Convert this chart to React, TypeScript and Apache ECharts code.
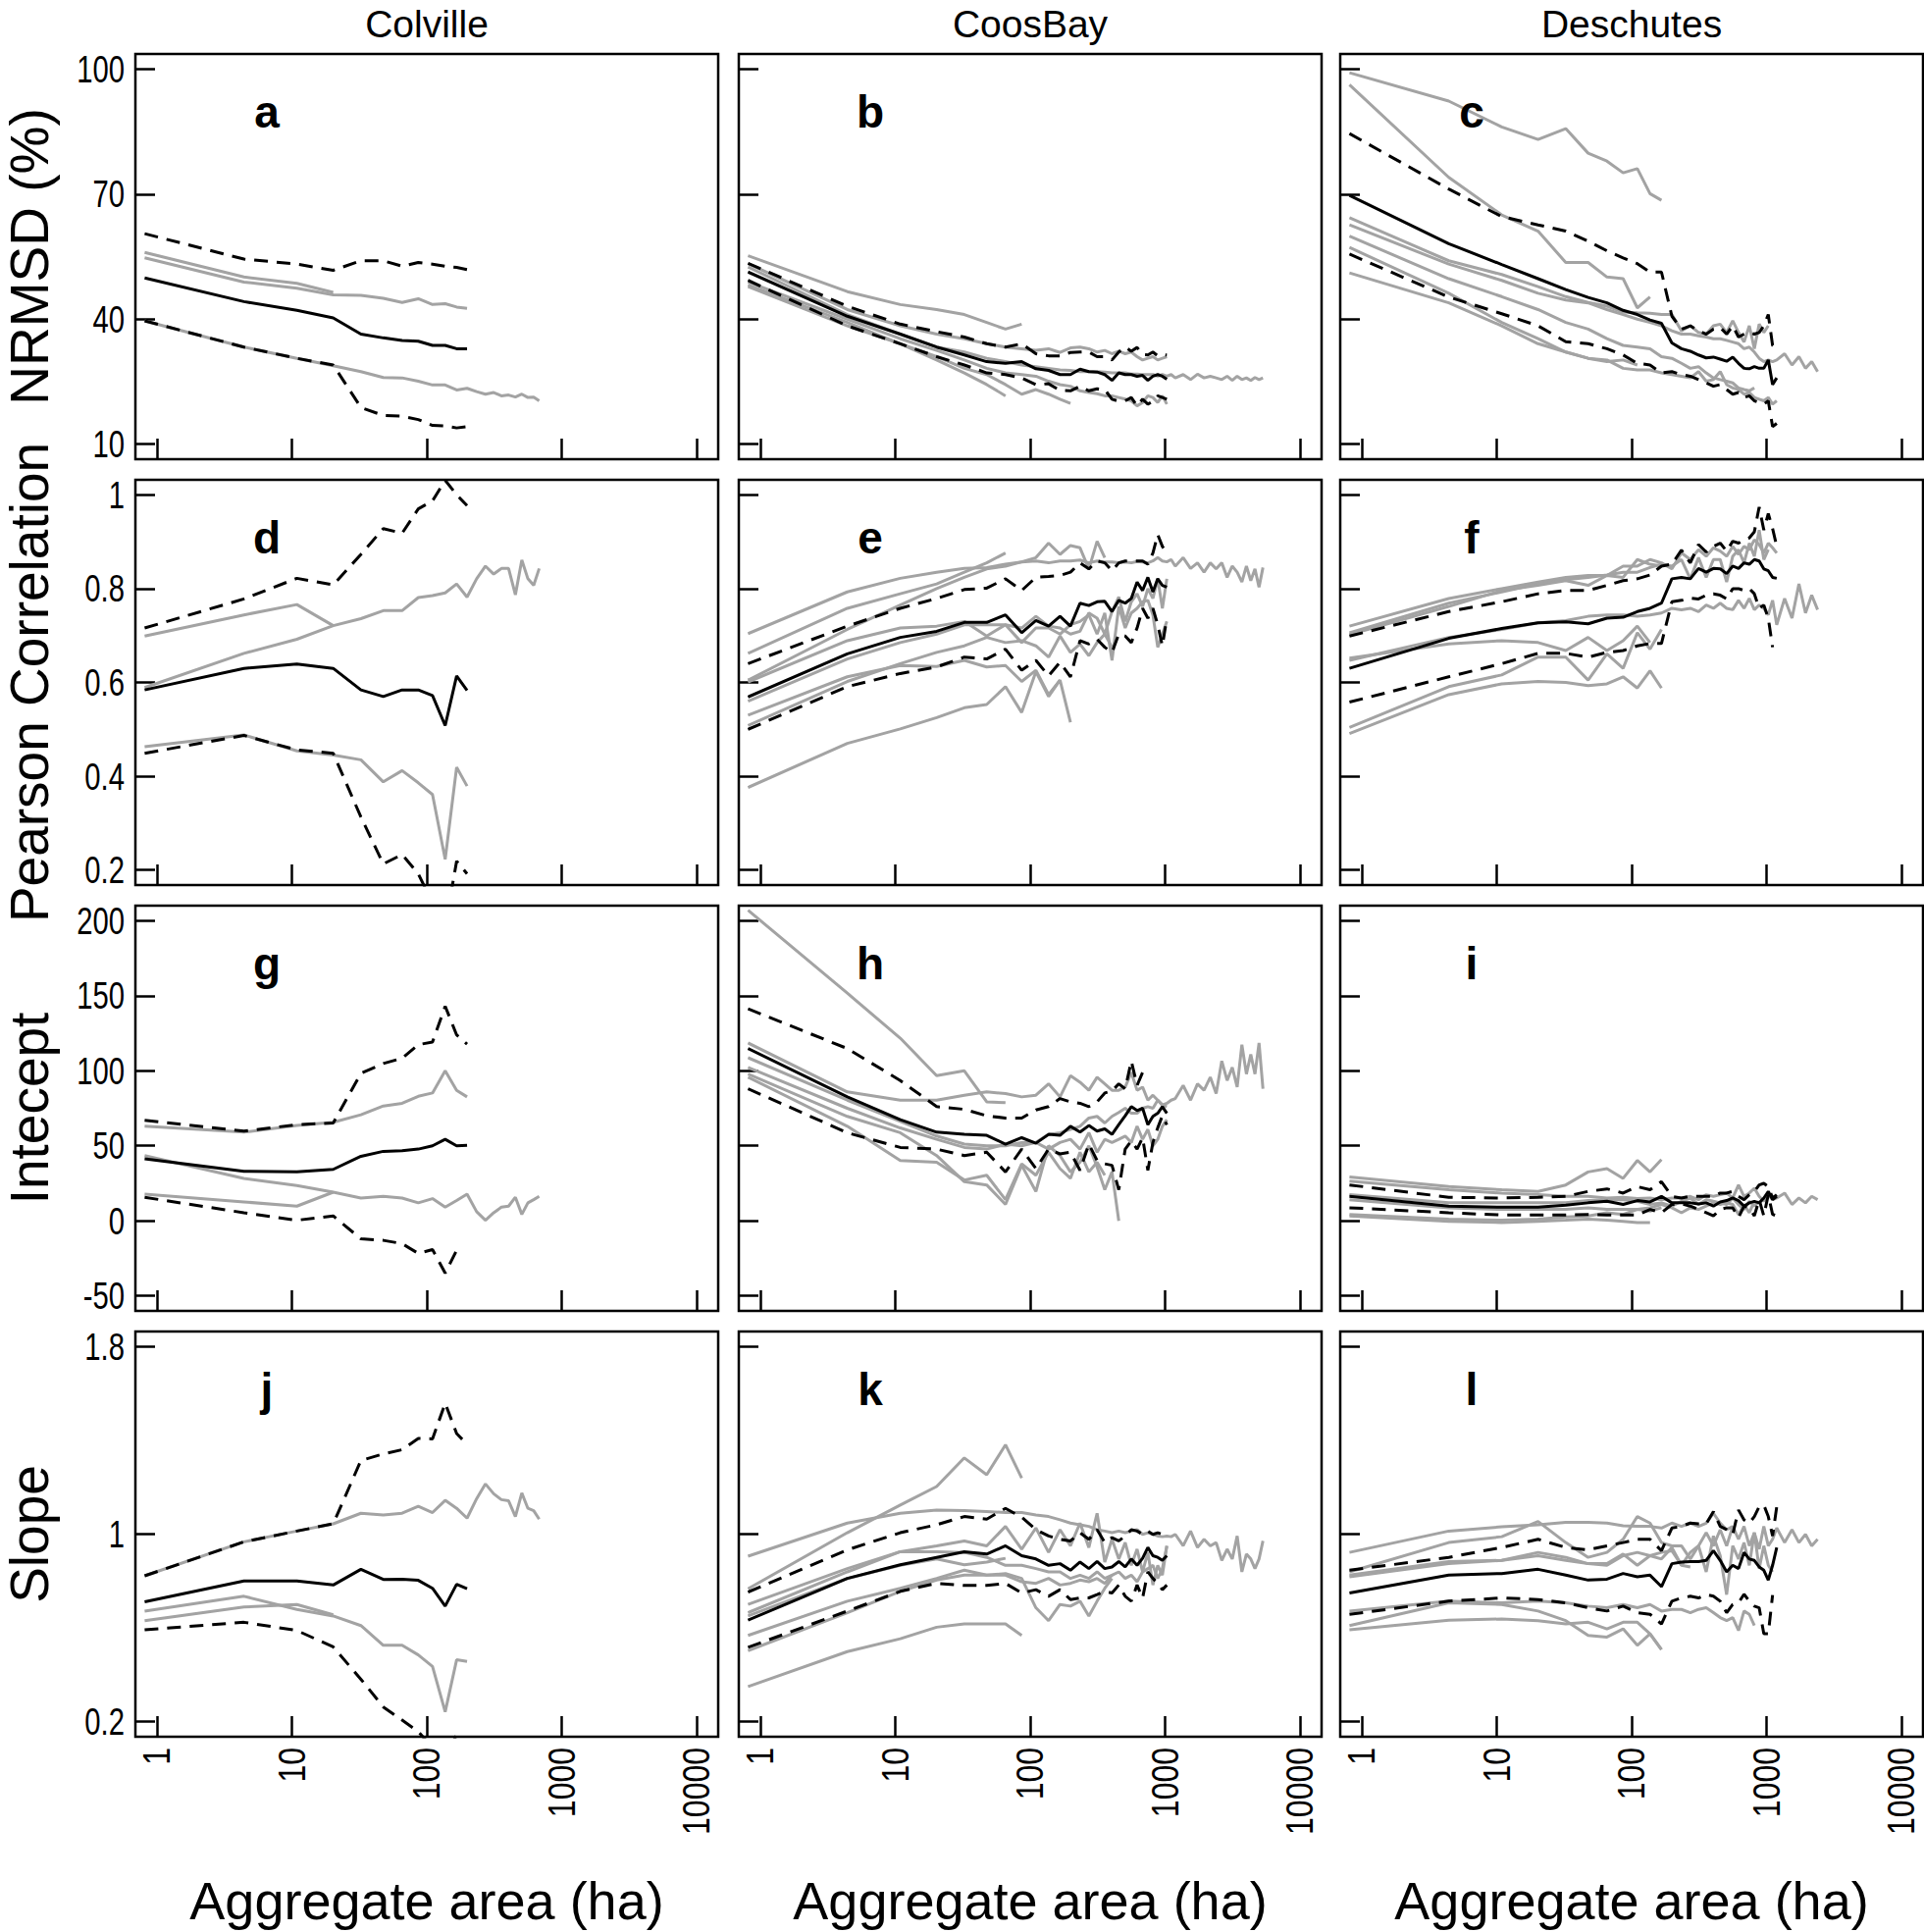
import React, { useEffect, useRef } from 'react';
import * as echarts from 'echarts';

// Aggregate area (ha) of each aggregation level (x values, shared by all series)
const AREA = [0.81, 4.41, 10.89, 20.25, 32.49, 47.61, 65.61, 86.49, 110.25, 136.89, 166.41, 198.81, 234.09, 272.25, 313.29, 357.21, 404.01, 453.69, 506.25, 561.69, 620.01, 681.21, 745.29, 812.25, 882.09, 954.81, 1030.41, 1108.89, 1190.25, 1361.61, 1544.49, 1738.89, 1944.81, 2162.25, 2391.21, 2631.69, 2883.69, 3147.21, 3422.25, 3708.81, 4006.89, 4316.49, 4637.61, 4970.25, 5314.41];

const SITES = ['Colville', 'CoosBay', 'Deschutes'];
const METRICS = ['NRMSD (%)', 'Pearson Correlation', 'Intecept', 'Slope'];
const X_TITLE = 'Aggregate area (ha)';
const X_TICKS = [1, 10, 100, 1000, 10000];
const Y_TICKS = [[10, 40, 70, 100], [0.2, 0.4, 0.6, 0.8, 1], [-50, 0, 50, 100, 150, 200], [0.2, 1, 1.8]];
const Y_LIMITS = [[6.4, 103.6], [0.168, 1.032], [-60, 210], [0.136, 1.864]];
const LETTERS = ['a', 'b', 'c', 'd', 'e', 'f', 'g', 'h', 'i', 'j', 'k', 'l'];

// ---- a: Colville NRMSD
const a_mean = [49.9, 44.2, 42.1, 40.3, 36.4, 35.5, 34.9, 34.7, 33.7, 33.7, 32.9, 32.9];
const a_hi = [60.5, 54.4, 53.2, 51.7, 54.0, 54.0, 52.7, 53.6, 53.2, 52.7, 52.4, 51.9];
const a_lo = [39.6, 33.3, 30.6, 29.0, 18.8, 16.9, 16.7, 15.9, 14.5, 14.4, 13.9, 14.2];
const a_g1 = [56.0, 50.1, 48.6, 46.4];
const a_g2 = [54.7, 48.9, 47.4, 45.8, 45.7, 45.0, 44.0, 44.9, 43.5, 43.7, 42.9, 42.6];
const a_g3 = [39.6, 33.3, 30.6, 28.8, 27.4, 26.0, 25.9, 25.1, 24.2, 24.2, 23.0, 23.4, 22.6, 22.0, 22.4, 21.6, 21.8, 21.3, 22.0, 21.2, 21.3, 20.4];

// ---- b: CoosBay NRMSD
const b_mean = [51.3, 40.7, 36.4, 33.3, 31.4, 29.8, 29.4, 29.8, 28.1, 27.7, 26.7, 26.7, 28.0, 27.4, 27.3, 26.7, 25.3, 27.1, 26.7, 26.7, 26.3, 26.5, 25.3, 26.3, 26.7, 26.3, 25.6];
const b_hi = [53.4, 43.1, 38.8, 37.0, 35.7, 34.1, 33.3, 34.1, 31.7, 31.2, 31.2, 32.0, 32.1, 32.1, 31.0, 31.0, 30.2, 32.1, 33.3, 32.3, 33.2, 31.5, 31.4, 32.1, 31.2, 31.5, 31.4];
const b_lo = [49.3, 38.4, 34.1, 31.0, 29.0, 27.1, 26.7, 25.9, 24.3, 24.5, 22.9, 22.8, 23.9, 22.8, 23.3, 23.1, 20.8, 20.3, 20.4, 21.2, 19.2, 20.8, 19.6, 20.3, 21.6, 21.2, 20.8];
const b_g1 = [55.2, 46.6, 43.5, 42.3, 41.1, 39.2, 37.6, 38.8];
const b_g2 = [53.3, 42.3, 38.4, 36.4, 35.3, 34.1, 33.3, 32.9, 32.5, 32.9, 32.0, 33.1, 33.3, 32.9, 32.1, 32.5, 31.7, 32.3, 31.7, 32.1, 31.0, 30.2, 30.6, 31.0, 30.2, 30.6, 31.0];
const b_g3 = [52.5, 41.1, 36.4, 33.3, 32.1, 30.6, 29.8, 29.0, 28.6, 28.2, 27.8, 27.7, 27.4, 27.4, 27.4, 27.3, 27.1, 27.1, 27.1, 26.8, 26.8, 26.7, 26.7, 26.7, 26.3, 26.7, 26.3, 26.7, 25.9, 26.7, 25.5, 26.8, 25.9, 26.3, 25.9, 25.5, 26.3, 25.3, 26.3, 25.5, 25.9, 25.3, 26.0, 25.5, 25.9];
const b_g4 = [48.2, 39.2, 34.1, 30.2, 27.1, 24.3, 21.6];
const b_g5 = [47.8, 38.4, 34.1, 31.0, 28.2, 26.7, 24.3, 22.0, 23.1, 22.0, 20.8, 19.8];
const b_g6 = [48.9, 40.0, 35.3, 32.5, 30.2, 28.2, 27.1, 26.7, 26.3, 25.1, 24.3, 23.9, 22.8, 22.4, 22.1, 21.6, 21.6, 21.2, 20.8, 20.4, 19.2, 20.0, 21.6, 21.2, 20.0, 21.6, 19.6];

// ---- c: Deschutes NRMSD
const c_mean = [69.7, 58.1, 53.1, 49.7, 47.1, 45.2, 43.9, 42.1, 41.1, 39.8, 39.0, 34.3, 32.9, 32.3, 31.4, 30.7, 30.9, 30.4, 29.9, 30.9, 29.4, 28.2, 28.1, 28.6, 28.2, 28.2, 30.2, 24.3, 25.9];
const c_hi = [84.5, 71.2, 64.6, 62.6, 61.1, 58.7, 56.4, 54.7, 53.3, 51.3, 51.3, 40.7, 37.6, 38.4, 37.2, 36.4, 37.6, 38.0, 36.4, 38.4, 35.7, 36.4, 36.8, 36.4, 36.8, 38.4, 41.1, 33.7, 33.0];
const c_lo = [55.6, 45.3, 41.3, 38.4, 34.6, 34.1, 32.9, 31.4, 29.4, 29.0, 27.1, 27.4, 26.7, 26.3, 25.5, 24.7, 23.9, 24.3, 23.1, 22.0, 22.4, 21.2, 21.6, 20.4, 20.0, 19.6, 20.4, 14.2, 15.0];
const c_g1 = [99.1, 92.3, 86.1, 83.1, 85.7, 79.8, 77.9, 75.1, 76.1, 70.1, 68.5];
const c_g2 = [96.2, 74.0, 65.0, 61.1, 53.6, 53.6, 50.1, 49.7, 42.7, 45.3];
const c_g3 = [64.3, 54.0, 50.7, 47.8, 45.4, 44.0, 43.1, 41.7, 41.5, 41.4, 41.1, 41.1, 37.2, 38.4, 36.8, 36.4, 38.4, 38.8, 36.8, 39.6, 36.8, 34.5, 38.4, 32.9, 38.8, 36.8, 38.4];
const c_g4 = [62.6, 53.2, 49.3, 46.2, 44.6, 43.9, 42.3, 41.1, 40.0, 39.2, 38.4, 37.2, 36.4, 36.4, 36.0, 35.7, 35.3, 35.3, 34.9, 34.5, 34.1, 32.9, 33.3, 32.1, 30.6, 29.8, 30.2, 29.8, 30.2, 31.7, 29.0, 31.0, 28.2, 29.8, 27.4];
const c_g5 = [59.9, 49.7, 45.4, 42.3, 39.2, 37.6, 35.3, 33.7, 33.3, 32.9, 31.0, 30.6, 29.4, 28.2, 28.6, 27.1, 25.9, 25.5, 25.1, 24.7, 23.5, 23.1, 22.8, 23.5];
const c_g6 = [57.2, 46.2, 39.2, 35.3, 32.1, 30.6, 30.2, 28.2, 27.8, 27.8, 27.1, 26.7, 26.3, 25.9, 27.4, 25.1, 25.5, 27.4, 24.3, 23.5, 23.1, 22.0, 22.4, 21.2, 20.8, 20.4, 21.2, 19.6, 20.4];
const c_g7 = [51.1, 43.9, 38.4, 34.1, 32.1, 30.6, 29.8, 30.2, 29.0];

// ---- d: Colville Pearson
const d_mean = [0.584, 0.630, 0.639, 0.630, 0.584, 0.570, 0.584, 0.584, 0.572, 0.508, 0.614, 0.583];
const d_hi = [0.716, 0.778, 0.822, 0.808, 0.873, 0.928, 0.918, 0.970, 0.987, 1.031, 1.0, 0.977];
const d_lo = [0.449, 0.487, 0.456, 0.449, 0.313, 0.213, 0.233, 0.192, 0.13, 0.08, 0.219, 0.192];
const d_g1 = [0.699, 0.744, 0.766, 0.721];
const d_g2 = [0.589, 0.662, 0.692, 0.721, 0.736, 0.753, 0.753, 0.781, 0.785, 0.791, 0.810, 0.782, 0.821, 0.848, 0.831, 0.843, 0.843, 0.787, 0.861, 0.821, 0.807, 0.843];
const d_g3 = [0.463, 0.488, 0.454, 0.445, 0.435, 0.388, 0.412, 0.386, 0.361, 0.223, 0.419, 0.379];

// ---- e: CoosBay Pearson
const e_mean = [0.569, 0.661, 0.696, 0.709, 0.728, 0.728, 0.744, 0.706, 0.732, 0.720, 0.741, 0.720, 0.769, 0.764, 0.772, 0.773, 0.751, 0.775, 0.769, 0.779, 0.814, 0.796, 0.824, 0.793, 0.821, 0.807, 0.803];
const e_hi = [0.640, 0.720, 0.758, 0.779, 0.798, 0.801, 0.821, 0.796, 0.824, 0.826, 0.828, 0.835, 0.855, 0.842, 0.859, 0.855, 0.838, 0.855, 0.859, 0.859, 0.859, 0.859, 0.852, 0.876, 0.915, 0.890, 0.876];
const e_lo = [0.500, 0.591, 0.619, 0.633, 0.654, 0.650, 0.671, 0.626, 0.647, 0.614, 0.643, 0.612, 0.689, 0.682, 0.692, 0.675, 0.664, 0.703, 0.699, 0.685, 0.716, 0.758, 0.737, 0.758, 0.723, 0.678, 0.737];
const e_g1 = [0.704, 0.793, 0.822, 0.835, 0.843, 0.845, 0.852, 0.857, 0.859, 0.855, 0.859, 0.859, 0.861, 0.855, 0.859, 0.857, 0.857, 0.855, 0.857, 0.855, 0.858, 0.857, 0.855, 0.859, 0.866, 0.859, 0.857, 0.862, 0.848, 0.866, 0.843, 0.855, 0.835, 0.855, 0.842, 0.855, 0.824, 0.848, 0.835, 0.814, 0.848, 0.817, 0.842, 0.803, 0.845];
const e_g2 = [0.662, 0.758, 0.789, 0.810, 0.835, 0.855, 0.876];
const e_g3 = [0.605, 0.713, 0.765, 0.800, 0.824, 0.842, 0.848, 0.857, 0.866, 0.897, 0.873, 0.892, 0.887, 0.842, 0.901, 0.866];
const e_g4 = [0.601, 0.689, 0.716, 0.720, 0.730, 0.699, 0.723, 0.716, 0.741, 0.720, 0.716, 0.703, 0.709, 0.748, 0.737, 0.703, 0.751, 0.782, 0.730, 0.772, 0.789, 0.762, 0.800, 0.779, 0.821, 0.758, 0.821];
const e_g5 = [0.560, 0.650, 0.685, 0.703, 0.723, 0.723, 0.723, 0.685, 0.716, 0.716, 0.703, 0.723, 0.730, 0.744, 0.703, 0.748, 0.647, 0.762, 0.716, 0.748, 0.758, 0.772, 0.775, 0.744, 0.675, 0.703, 0.730];
const e_g6 = [0.530, 0.612, 0.636, 0.634, 0.647, 0.633, 0.636, 0.602, 0.626, 0.574, 0.605];
const e_g7 = [0.508, 0.602, 0.640, 0.664, 0.678, 0.696, 0.685, 0.689, 0.678, 0.654, 0.699, 0.664, 0.682, 0.657, 0.685, 0.703, 0.675];
const e_g8 = [0.376, 0.470, 0.501, 0.525, 0.546, 0.553, 0.591, 0.536, 0.623, 0.570, 0.605, 0.515];

// ---- f: Deschutes Pearson
const f_mean = [0.630, 0.694, 0.715, 0.727, 0.729, 0.725, 0.737, 0.739, 0.751, 0.758, 0.769, 0.821, 0.824, 0.821, 0.843, 0.835, 0.843, 0.842, 0.832, 0.848, 0.843, 0.855, 0.852, 0.862, 0.859, 0.842, 0.838, 0.824, 0.822];
const f_hi = [0.699, 0.751, 0.772, 0.789, 0.796, 0.796, 0.807, 0.817, 0.821, 0.829, 0.848, 0.852, 0.882, 0.855, 0.894, 0.878, 0.890, 0.897, 0.880, 0.901, 0.897, 0.904, 0.908, 0.921, 0.974, 0.925, 0.960, 0.928, 0.890];
const f_lo = [0.558, 0.612, 0.640, 0.662, 0.662, 0.654, 0.664, 0.668, 0.678, 0.683, 0.683, 0.772, 0.775, 0.780, 0.778, 0.786, 0.789, 0.786, 0.778, 0.800, 0.800, 0.796, 0.800, 0.789, 0.758, 0.765, 0.737, 0.675];
const f_g1 = [0.720, 0.779, 0.800, 0.814, 0.824, 0.828, 0.828, 0.848, 0.848, 0.862, 0.855, 0.842, 0.876, 0.862, 0.883, 0.869, 0.887, 0.880, 0.869, 0.890, 0.873, 0.890, 0.883, 0.904, 0.894, 0.876, 0.897, 0.887, 0.876];
const f_g2 = [0.706, 0.769, 0.793, 0.810, 0.819, 0.824, 0.829, 0.835, 0.835, 0.845, 0.852, 0.848, 0.862, 0.821, 0.866, 0.824, 0.862, 0.862, 0.814, 0.869, 0.883, 0.855, 0.897, 0.869, 0.925, 0.862, 0.883];
const f_g3 = [0.702, 0.762, 0.796, 0.807, 0.817, 0.807, 0.828, 0.824, 0.862, 0.852, 0.848];
const f_g4 = [0.647, 0.696, 0.713, 0.727, 0.732, 0.741, 0.744, 0.744, 0.741, 0.744, 0.748, 0.758, 0.755, 0.758, 0.751, 0.765, 0.758, 0.769, 0.758, 0.755, 0.775, 0.758, 0.779, 0.755, 0.765, 0.758, 0.744, 0.775, 0.723, 0.779, 0.737, 0.810, 0.748, 0.786, 0.755];
const f_g5 = [0.652, 0.682, 0.689, 0.685, 0.668, 0.696, 0.668, 0.689, 0.720, 0.685];
const f_g6 = [0.504, 0.591, 0.616, 0.654, 0.654, 0.605, 0.661, 0.630, 0.706, 0.671, 0.713];
const f_g7 = [0.491, 0.574, 0.597, 0.602, 0.600, 0.593, 0.597, 0.612, 0.588, 0.625, 0.588];

// ---- g: Colville intercept
const g_mean = [41.3, 33.0, 32.6, 34.3, 43.0, 46.3, 46.7, 47.8, 50.0, 54.3, 50.0, 50.4];
const g_hi = [67.0, 59.8, 64.1, 65.2, 98.3, 104.8, 108.3, 117.4, 119.1, 143.0, 123.9, 117.8];
const g_lo = [15.7, 5.4, 0.4, 3.3, -12.0, -13.0, -15.2, -21.7, -19.1, -34.8, -19.6];
const g_g1 = [63.0, 59.1, 63.5, 65.7, 70.7, 76.5, 78.3, 83.0, 85.2, 100.0, 87.0, 82.6];
const g_g2 = [43.5, 28.3, 23.5, 19.1, 15.2, 16.3, 15.2, 12.0, 14.8, 9.1, 13.5, 17.8, 6.1, 0.4, 5.4, 9.1, 9.8, 15.7, 4.3, 12.0, 14.1, 16.3];
const g_g3 = [17.8, 12.6, 9.8, 19.1];

// ---- h: CoosBay intercept
const h_mean = [114.8, 82.6, 67.4, 59.1, 57.6, 57.0, 51.1, 55.4, 51.7, 57.6, 57.0, 63.0, 59.1, 63.5, 59.8, 61.3, 57.6, 64.1, 70.0, 76.1, 73.5, 75.0, 64.1, 69.6, 71.7, 76.1, 71.7];
const h_hi = [141.3, 114.8, 93.5, 76.1, 74.3, 70.0, 68.5, 68.5, 73.9, 76.1, 81.5, 79.3, 78.3, 76.1, 79.3, 85.2, 86.5, 91.3, 88.0, 106.5, 90.2, 98.9, 94.6];
const h_lo = [88.0, 58.7, 48.9, 47.8, 43.5, 45.7, 32.6, 47.8, 34.8, 47.8, 44.6, 45.7, 33.7, 51.1, 40.2, 38.0, 37.0, 20.7, 47.8, 53.3, 47.8, 55.4, 33.7, 52.2, 62.0, 70.0, 64.0];
const h_g1 = [207.0, 151.7, 121.7, 96.7, 100.0, 79.3, 78.7];
const h_g2 = [118.5, 85.9, 80.4, 80.4, 83.7, 85.9, 84.8, 82.6, 83.7, 91.3, 82.6, 96.7, 92.4, 87.0, 95.7, 91.3, 87.0, 87.0, 89.1, 98.9, 87.0, 89.1, 80.4, 83.7, 80.4, 77.2, 78.3, 80.4, 81.5, 90.2, 80.4, 91.3, 87.0, 95.7, 84.8, 106.5, 93.5, 102.2, 89.1, 117.4, 97.8, 110.9, 97.8, 118.5, 88.0];
const h_g3 = [108.7, 80.4, 66.3, 56.5, 51.1, 50.0, 50.0, 52.2, 52.2, 57.6, 58.7, 60.9, 63.0, 68.5, 69.6, 65.2, 69.6, 72.2, 75.0, 71.7, 71.7, 75.0, 76.1, 75.0, 80.4, 77.2, 76.1];
const h_g4 = [97.8, 69.6, 58.7, 43.5, 26.1, 23.9, 10.9, 37.0, 19.6, 50.0, 43.5, 32.6, 39.1, 50.0, 35.9, 20.7, 32.6, 0.0];
const h_g5 = [102.2, 75.0, 61.9, 54.3, 48.9, 47.8, 51.1, 50.0, 52.2, 47.8, 52.2, 54.3, 47.8, 58.7, 45.7, 54.3, 52.2, 54.3, 56.5, 52.2, 63.0, 54.3, 60.9, 50.0, 54.3, 63.0, 67.4];
const h_g6 = [95.7, 63.0, 40.2, 39.1, 27.2, 30.4, 14.1, 38.0, 30.4, 45.7, 34.8, 28.3, 45.7, 32.6, 39.1, 30.4];

// ---- i: Deschutes intercept
const i_mean = [16.3, 9.8, 9.1, 9.1, 10.4, 12.0, 13.0, 10.9, 13.5, 12.6, 16.3, 12.0, 12.0, 12.0, 11.3, 12.0, 9.8, 12.6, 13.5, 15.2, 13.5, 9.8, 12.0, 13.0, 12.0, 15.2, 19.6, 14.1, 16.3];
const i_hi = [23.9, 15.7, 15.2, 15.7, 16.3, 19.6, 21.3, 18.5, 22.8, 20.7, 26.1, 16.3, 15.2, 16.3, 16.3, 16.3, 16.3, 18.5, 18.5, 19.6, 16.3, 14.1, 17.4, 19.6, 23.9, 25.0, 22.8, 15.2, 17.4];
const i_lo = [8.7, 5.4, 3.9, 3.9, 3.9, 4.3, 3.9, 3.9, 3.9, 7.6, 5.4, 10.9, 11.3, 9.8, 7.6, 5.4, 3.3, 7.6, 8.7, 8.7, 2.2, 9.8, 8.7, 3.3, 14.1, 3.3, 17.4, 4.3, 3.3];
const i_g1 = [29.3, 22.8, 20.7, 19.6, 23.9, 32.6, 34.8, 28.3, 40.2, 32.6, 40.9];
const i_g2 = [26.5, 20.7, 18.5, 17.4, 16.3, 16.3, 15.2, 15.7, 14.8, 15.2, 14.1, 15.2, 15.2, 16.3, 14.1, 17.4, 16.3, 17.4, 18.5, 15.2, 23.9, 16.3, 18.5, 21.7, 16.3, 13.0, 17.4, 14.1, 15.2, 18.5, 10.9, 15.2, 12.0, 16.3, 14.1];
const i_g3 = [17.4, 12.0, 12.0, 12.0, 12.0, 13.5, 14.1, 14.1, 13.0, 10.9, 12.0, 9.8, 13.0, 15.2, 10.9, 14.1, 13.0, 12.0, 10.9, 15.2, 10.9, 7.6, 13.0, 9.8, 13.0];
const i_g4 = [14.1, 8.7, 7.6, 7.6, 7.6, 8.7, 7.6, 7.6, 7.6, 8.7, 10.9, 8.7, 5.4, 8.7, 7.6, 9.8, 12.0, 10.9, 12.0, 10.9, 4.3, 10.9, 5.4, 13.0];
const i_g5 = [3.3, -0.4, -1.1, -0.4, 0.4, 1.1, 0.4, -0.4, -1.1, -1.1];
const i_g6 = [4.3, 1.1, 0.4, 1.1, 2.6, 3.3, 5.4, 4.3, 7.6, 6.5, 8.7];

// ---- j: Colville slope
const j_mean = [0.711, 0.800, 0.800, 0.783, 0.850, 0.807, 0.808, 0.803, 0.769, 0.693, 0.786, 0.767];
const j_hi = [0.822, 0.967, 1.013, 1.044, 1.314, 1.342, 1.360, 1.408, 1.406, 1.558, 1.429, 1.383];
const j_lo = [0.592, 0.624, 0.589, 0.519, 0.381, 0.263, 0.207, 0.158, 0.09, 0.05, 0.144, 0.10];
const j_g1 = [0.822, 0.967, 1.013, 1.044, 1.089, 1.082, 1.089, 1.119, 1.092, 1.144, 1.110, 1.068, 1.151, 1.214, 1.172, 1.147, 1.142, 1.075, 1.175, 1.110, 1.100, 1.064];
const j_g2 = [0.672, 0.735, 0.679, 0.651, 0.610, 0.526, 0.526, 0.485, 0.436, 0.242, 0.464, 0.457];
const j_g3 = [0.631, 0.689, 0.700, 0.656];

// ---- k: CoosBay slope
const k_mean = [0.633, 0.811, 0.869, 0.901, 0.925, 0.915, 0.950, 0.908, 0.894, 0.867, 0.874, 0.846, 0.881, 0.853, 0.883, 0.853, 0.860, 0.883, 0.860, 0.894, 0.867, 0.897, 0.943, 0.908, 0.901, 0.888, 0.908];
const k_hi = [0.753, 0.933, 1.006, 1.040, 1.075, 1.064, 1.110, 1.072, 1.019, 0.992, 0.978, 0.971, 1.006, 0.978, 1.019, 0.964, 0.985, 0.971, 0.992, 1.019, 1.013, 0.999, 1.013, 0.999, 1.006, 0.999];
const k_lo = [0.517, 0.672, 0.756, 0.790, 0.781, 0.781, 0.790, 0.749, 0.763, 0.735, 0.763, 0.721, 0.728, 0.728, 0.742, 0.756, 0.749, 0.783, 0.735, 0.714, 0.783, 0.728, 0.839, 0.811, 0.790, 0.763, 0.783];
const k_g1 = [0.767, 1.006, 1.124, 1.203, 1.325, 1.253, 1.381, 1.239];
const k_g2 = [0.906, 1.047, 1.089, 1.103, 1.100, 1.096, 1.092, 1.092, 1.082, 1.075, 1.061, 1.047, 1.040, 1.033, 1.019, 1.013, 1.006, 1.013, 1.006, 1.013, 1.019, 0.999, 1.006, 0.999, 0.992, 0.989, 0.992, 0.989, 0.999, 0.950, 1.013, 0.943, 0.978, 0.950, 0.964, 0.888, 0.936, 0.894, 0.992, 0.839, 0.915, 0.894, 0.853, 0.894, 0.971];
const k_g3 = [0.665, 0.839, 0.925, 0.950, 0.971, 0.950, 1.033, 0.936, 1.026, 0.922, 1.019, 0.950, 1.047, 0.943, 1.089, 0.881, 0.978, 0.894, 0.964, 0.867, 0.936, 0.839, 0.922, 0.783, 0.867, 0.825, 0.950];
const k_g4 = [0.651, 0.811, 0.867, 0.894, 0.869, 0.881, 0.897];
const k_g5 = [0.700, 0.853, 0.925, 0.925, 0.922, 0.901, 0.867, 0.867, 0.853, 0.839, 0.839, 0.811, 0.825, 0.811, 0.839, 0.811, 0.825, 0.839, 0.811, 0.825, 0.797, 0.839, 0.853, 0.867, 0.811, 0.853, 0.950];
const k_g6 = [0.568, 0.714, 0.769, 0.811, 0.846, 0.825, 0.825, 0.797, 0.790, 0.811, 0.783, 0.790, 0.804, 0.797, 0.811, 0.790, 0.825];
const k_g7 = [0.503, 0.665, 0.756, 0.804, 0.825, 0.825, 0.832, 0.811, 0.686, 0.631, 0.700, 0.693, 0.714, 0.651, 0.714, 0.769, 0.811];
const k_g8 = [0.350, 0.499, 0.554, 0.603, 0.617, 0.617, 0.617, 0.568];

// ---- l: Deschutes slope
const l_mean = [0.749, 0.825, 0.832, 0.850, 0.825, 0.804, 0.808, 0.832, 0.818, 0.825, 0.776, 0.874, 0.881, 0.883, 0.883, 0.888, 0.929, 0.888, 0.839, 0.867, 0.853, 0.922, 0.894, 0.888, 0.860, 0.846, 0.804, 0.867, 0.943];
const l_hi = [0.846, 0.901, 0.943, 0.978, 0.943, 0.933, 0.950, 0.964, 0.978, 0.978, 0.929, 1.026, 1.033, 1.047, 1.044, 1.044, 1.096, 1.033, 1.019, 0.999, 1.103, 1.061, 1.047, 1.075, 1.117, 1.124, 1.075, 0.992, 1.117];
const l_lo = [0.658, 0.714, 0.728, 0.721, 0.707, 0.686, 0.672, 0.693, 0.665, 0.658, 0.617, 0.714, 0.728, 0.735, 0.728, 0.742, 0.735, 0.714, 0.665, 0.700, 0.707, 0.744, 0.714, 0.693, 0.686, 0.575, 0.575, 0.740];
const l_g1 = [0.922, 1.013, 1.031, 1.040, 1.050, 1.050, 1.047, 1.036, 1.033, 1.033, 1.026, 1.047, 1.033, 1.047, 1.033, 1.047, 1.089, 1.047, 1.019, 1.033];
const l_g2 = [0.839, 0.964, 0.989, 1.054, 0.964, 0.901, 0.922, 0.978, 1.075, 1.047, 0.964, 0.950, 0.950, 0.894, 0.950, 1.006, 0.950, 1.019, 0.950, 1.033, 0.978, 1.033, 0.950, 1.006, 0.936, 1.033, 0.950, 0.978, 1.026, 0.964, 1.019, 0.964, 0.999, 0.950, 0.978];
const l_g3 = [0.825, 0.883, 0.888, 0.922, 0.901, 0.874, 0.874, 0.915, 0.867, 0.908, 0.894, 0.943, 0.867, 0.922, 0.950, 0.839, 0.992, 0.908, 0.742, 0.950, 0.894, 0.964, 0.867, 1.006, 0.853, 0.950, 0.867, 0.839];
const l_g4 = [0.818, 0.874, 0.888, 0.908, 0.888, 0.874, 0.867, 0.908, 0.922, 0.908, 0.922, 0.929, 0.867, 0.860];
const l_g5 = [0.672, 0.714, 0.707, 0.714, 0.707, 0.693, 0.686, 0.700, 0.686, 0.700, 0.672, 0.679, 0.679, 0.665, 0.679, 0.686, 0.665, 0.644, 0.631, 0.644, 0.589, 0.672, 0.658, 0.610];
const l_g6 = [0.610, 0.707, 0.700, 0.672, 0.631, 0.568, 0.561, 0.596, 0.526, 0.575, 0.508];
const l_g7 = [0.592, 0.633, 0.638, 0.631, 0.617, 0.624, 0.596, 0.624, 0.624, 0.575, 0.508];

type Kind = 'gray' | 'band' | 'mean';
const PANEL_LINES: [number[], Kind][][] = [
  [[a_g1, 'gray'], [a_g2, 'gray'], [a_g3, 'gray'], [a_hi, 'band'], [a_lo, 'band'], [a_mean, 'mean']],
  [[b_g1, 'gray'], [b_g2, 'gray'], [b_g3, 'gray'], [b_g4, 'gray'], [b_g5, 'gray'], [b_g6, 'gray'], [b_hi, 'band'], [b_lo, 'band'], [b_mean, 'mean']],
  [[c_g1, 'gray'], [c_g2, 'gray'], [c_g3, 'gray'], [c_g4, 'gray'], [c_g5, 'gray'], [c_g6, 'gray'], [c_g7, 'gray'], [c_hi, 'band'], [c_lo, 'band'], [c_mean, 'mean']],
  [[d_g1, 'gray'], [d_g2, 'gray'], [d_g3, 'gray'], [d_hi, 'band'], [d_lo, 'band'], [d_mean, 'mean']],
  [[e_g1, 'gray'], [e_g2, 'gray'], [e_g3, 'gray'], [e_g4, 'gray'], [e_g5, 'gray'], [e_g6, 'gray'], [e_g7, 'gray'], [e_g8, 'gray'], [e_hi, 'band'], [e_lo, 'band'], [e_mean, 'mean']],
  [[f_g1, 'gray'], [f_g2, 'gray'], [f_g3, 'gray'], [f_g4, 'gray'], [f_g5, 'gray'], [f_g6, 'gray'], [f_g7, 'gray'], [f_hi, 'band'], [f_lo, 'band'], [f_mean, 'mean']],
  [[g_g1, 'gray'], [g_g2, 'gray'], [g_g3, 'gray'], [g_hi, 'band'], [g_lo, 'band'], [g_mean, 'mean']],
  [[h_g1, 'gray'], [h_g2, 'gray'], [h_g3, 'gray'], [h_g4, 'gray'], [h_g5, 'gray'], [h_g6, 'gray'], [h_hi, 'band'], [h_lo, 'band'], [h_mean, 'mean']],
  [[i_g1, 'gray'], [i_g2, 'gray'], [i_g3, 'gray'], [i_g4, 'gray'], [i_g5, 'gray'], [i_g6, 'gray'], [i_hi, 'band'], [i_lo, 'band'], [i_mean, 'mean']],
  [[j_g1, 'gray'], [j_g2, 'gray'], [j_g3, 'gray'], [j_hi, 'band'], [j_lo, 'band'], [j_mean, 'mean']],
  [[k_g1, 'gray'], [k_g2, 'gray'], [k_g3, 'gray'], [k_g4, 'gray'], [k_g5, 'gray'], [k_g6, 'gray'], [k_g7, 'gray'], [k_g8, 'gray'], [k_hi, 'band'], [k_lo, 'band'], [k_mean, 'mean']],
  [[l_g1, 'gray'], [l_g2, 'gray'], [l_g3, 'gray'], [l_g4, 'gray'], [l_g5, 'gray'], [l_g6, 'gray'], [l_g7, 'gray'], [l_hi, 'band'], [l_lo, 'band'], [l_mean, 'mean']],
];

// ---- layout & style
const W = 1961;
const H = 1969;
const COL_LEFT = [138, 753, 1366];
const ROW_TOP = [55, 489, 923, 1357];
const PW = 594;
const PH = 413;
const X_MIN = -0.16;
const X_MAX = 4.16;
const FONT = '"Liberation Sans", Arial, Helvetica, sans-serif';
const GRAY = '#a3a3a3';
const FRAME_W = 2.5;
const TICK_FONT = 39;
const Y_SQUEEZE = 0.75; // condensed tick-label face
const X_SQUEEZE = 0.82;

const centered = { align: 'center', verticalAlign: 'middle', textAlign: 'center', textVerticalAlign: 'middle' };

export default function App() {
  const ref = useRef<HTMLDivElement>(null);

  useEffect(() => {
    if (!ref.current) return;
    const chart = echarts.init(ref.current, null, { renderer: 'svg' });
    const grid: any[] = [];
    const xAxis: any[] = [];
    const yAxis: any[] = [];
    const series: any[] = [];
    const xTickLog = X_TICKS.map((t) => Math.log10(t));

    for (let r = 0; r < 4; r++) {
      for (let c = 0; c < 3; c++) {
        const k = r * 3 + c;
        grid.push({
          left: COL_LEFT[c], top: ROW_TOP[r], width: PW, height: PH,
          show: true, borderColor: '#000', borderWidth: FRAME_W, backgroundColor: 'rgba(0,0,0,0)',
        });
        xAxis.push({
          type: 'value', gridIndex: k, min: X_MIN, max: X_MAX,
          axisLine: { show: false, onZero: false },
          axisTick: { show: true, inside: true, length: 21, customValues: xTickLog, lineStyle: { color: '#000', width: FRAME_W } },
          axisLabel: { show: false },
          splitLine: { show: false },
        });
        yAxis.push({
          type: 'value', gridIndex: k, min: Y_LIMITS[r][0], max: Y_LIMITS[r][1],
          axisLine: { show: false, onZero: false },
          axisTick: { show: true, inside: true, length: 20, customValues: Y_TICKS[r], lineStyle: { color: '#000', width: FRAME_W } },
          axisLabel: { show: false },
          splitLine: { show: false },
        });
        PANEL_LINES[k].forEach(([vals, kind]) => {
          series.push({
            type: 'line', xAxisIndex: k, yAxisIndex: k, silent: true,
            symbol: 'none', animation: false, clip: true,
            z: kind === 'gray' ? 2 : 3,
            data: vals.map((v, i) => [Math.log10(AREA[i]), v]),
            lineStyle: {
              color: kind === 'gray' ? GRAY : '#000',
              width: 3,
              type: kind === 'band' ? [14, 9] : 'solid',
            },
          });
        });
      }
    }

    chart.setOption({
      animation: false,
      backgroundColor: '#fff',
      grid, xAxis, yAxis, series,
    });

    // texts: tick labels are placed through the axes' own value->pixel conversion
    const graphic: any[] = [];
    for (let r = 0; r < 4; r++) {
      for (let c = 0; c < 3; c++) {
        const k = r * 3 + c;
        if (c === 0) {
          Y_TICKS[r].forEach((t) => {
            const p = chart.convertToPixel({ gridIndex: k }, [X_MIN, t]) as number[];
            graphic.push({
              type: 'text', x: p[0] - 11, y: p[1], scaleX: Y_SQUEEZE,
              style: { text: String(t), x: 0, y: 0, fontSize: TICK_FONT, fontFamily: FONT, fill: '#000', align: 'right', verticalAlign: 'middle', textAlign: 'right', textVerticalAlign: 'middle' },
            });
          });
        }
        if (r === 3) {
          X_TICKS.forEach((t) => {
            const p = chart.convertToPixel({ gridIndex: k }, [Math.log10(t), Y_LIMITS[r][0]]) as number[];
            graphic.push({
              type: 'text', x: p[0], y: p[1] + 11, rotation: Math.PI / 2, scaleX: X_SQUEEZE,
              style: { text: String(t), x: 0, y: 0, fontSize: TICK_FONT, fontFamily: FONT, fill: '#000', align: 'right', verticalAlign: 'middle', textAlign: 'right', textVerticalAlign: 'middle' },
            });
          });
        }
        graphic.push({
          type: 'text', x: COL_LEFT[c] + 134, y: ROW_TOP[r] + 59, z: 10,
          style: { text: LETTERS[k], fontSize: 46, fontWeight: 'bold', fontFamily: FONT, fill: '#000', ...centered },
        });
      }
    }
    SITES.forEach((s, c) => {
      graphic.push({
        type: 'text', x: COL_LEFT[c] + PW / 2, y: 24,
        style: { text: s, fontSize: 39, fontFamily: FONT, fill: '#000', ...centered },
      });
      graphic.push({
        type: 'text', x: COL_LEFT[c] + PW / 2, y: 1937,
        style: { text: X_TITLE, fontSize: 54, fontFamily: FONT, fill: '#000', ...centered },
      });
    });
    METRICS.forEach((m, r) => {
      graphic.push({
        type: 'text', x: 30, y: ROW_TOP[r] + PH / 2, rotation: Math.PI / 2,
        style: { text: m, fontSize: 55, fontFamily: FONT, fill: '#000', ...centered },
      });
    });
    chart.setOption({ graphic });

    return () => chart.dispose();
  }, []);

  return <div ref={ref} style={{ position: 'absolute', left: 0, top: 0, width: W, height: H }} />;
}
